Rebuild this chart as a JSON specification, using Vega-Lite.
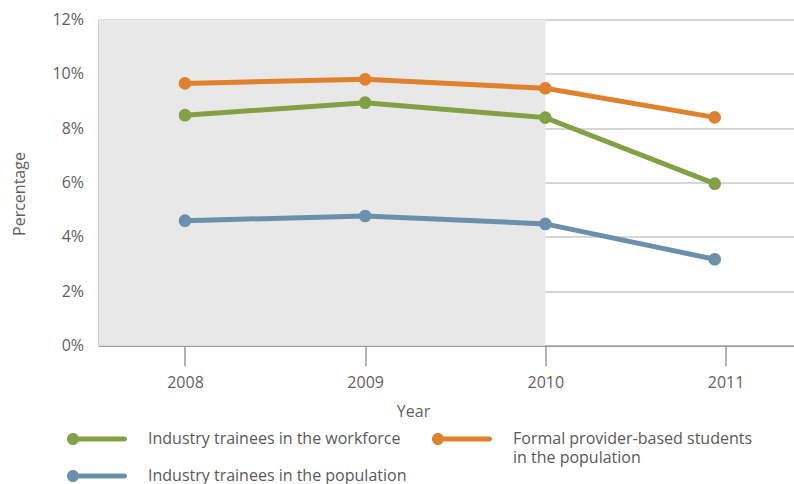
{
  "$schema": "https://vega.github.io/schema/vega-lite/v6.json",
  "width": 695.5,
  "height": 326.2,
  "autosize": {"type": "none"},
  "padding": {"left": 98.5, "top": 19.5, "right": 0, "bottom": 138.3},
  "background": "white",
  "config": {
    "view": {"stroke": null},
    "font": "Open Sans",
    "axis": {"labelFont": "Open Sans", "titleFont": "Open Sans", "labelColor": "#5f5f5f", "titleColor": "#5f5f5f", "labelFontSize": 16, "titleFontSize": 16, "titleFontWeight": "normal"}
  },
  "datasets": {
    "series": [
      {"year": 2008, "value": 9.65, "series": "Formal provider-based students in the population"},
      {"year": 2009, "value": 9.8, "series": "Formal provider-based students in the population"},
      {"year": 2010, "value": 9.47, "series": "Formal provider-based students in the population"},
      {"year": 2010.94, "value": 8.4, "series": "Formal provider-based students in the population"},
      {"year": 2008, "value": 8.48, "series": "Industry trainees in the workforce"},
      {"year": 2009, "value": 8.94, "series": "Industry trainees in the workforce"},
      {"year": 2010, "value": 8.39, "series": "Industry trainees in the workforce"},
      {"year": 2010.94, "value": 5.96, "series": "Industry trainees in the workforce"},
      {"year": 2008, "value": 4.6, "series": "Industry trainees in the population"},
      {"year": 2009, "value": 4.77, "series": "Industry trainees in the population"},
      {"year": 2010, "value": 4.48, "series": "Industry trainees in the population"},
      {"year": 2010.94, "value": 3.18, "series": "Industry trainees in the population"}
    ],
    "shade": [{"from": 2007.52, "to": 2010, "low": 0, "high": 12}]
  },
  "layer": [
    {
      "data": {"name": "shade"},
      "mark": {"type": "rect", "color": "#e8e8e8"},
      "encoding": {
        "x": {"field": "from", "type": "quantitative", "scale": {"domain": [2007.52, 2011.38], "nice": false, "zero": false},
          "axis": {"values": [2008, 2009, 2010, 2011], "format": "d", "title": "Year", "grid": false, "tickSize": 20, "tickColor": "#9a9a9a", "tickWidth": 1.5, "domainColor": "#9a9a9a", "domainWidth": 1.5, "labelPadding": 9, "titlePadding": 13, "titleX": 314.5}},
        "x2": {"field": "to"},
        "y": {"field": "low", "type": "quantitative", "scale": {"domain": [0, 12], "nice": false},
          "axis": {"values": [0, 2, 4, 6, 8, 10, 12], "labelExpr": "datum.value + '%'", "title": "Percentage", "grid": true, "gridColor": "#c8c8c8", "gridWidth": 1.5, "tickSize": 0, "labelPadding": 15, "domainColor": "#9a9a9a", "domainWidth": 1.5, "titlePadding": 24, "titleY": 174}},
        "y2": {"field": "high"}
      }
    },
    {
      "data": {"name": "series"},
      "mark": {"type": "line", "strokeWidth": 5},
      "encoding": {
        "x": {"field": "year", "type": "quantitative"},
        "y": {"field": "value", "type": "quantitative"},
        "color": {"field": "series", "type": "nominal",
          "scale": {"domain": ["Industry trainees in the workforce", "Formal provider-based students in the population", "Industry trainees in the population"], "range": ["#82a044", "#e0812e", "#6a90ab"]},
          "legend": {
            "orient": "none", "legendX": -11.5, "legendY": 409.5, "direction": "horizontal", "columns": 2, "title": null,
            "symbolType": "M -3 0 A 0.6 0.6 0 1 1 -1.8 0 A 0.6 0.6 0 1 1 -3 0 Z M -2.4 -0.25 L 2.75 -0.25 A 0.25 0.25 0 0 1 2.75 0.25 L -2.4 0.25 Z",
            "symbolSize": 400, "symbolStrokeWidth": 0, "symbolOpacity": 1,
            "labelFont": "Open Sans", "labelFontSize": 16, "labelColor": "#595959", "labelLimit": 400, "labelOffset": 41,
            "labelExpr": "datum.label == 'Formal provider-based students in the population' ? ['Formal provider-based students', 'in the population'] : [datum.label, '']",
            "columnPadding": 25, "rowPadding": 0,
            "encode": {
              "symbols": {"update": {"fill": {"scale": "color", "field": "value"}, "strokeWidth": {"value": 0}}},
              "labels": {"update": {"lineHeight": {"value": 19}}}
            }
          }}
      }
    },
    {
      "data": {"name": "series"},
      "mark": {"type": "point", "filled": true, "opacity": 1, "size": 160},
      "encoding": {
        "x": {"field": "year", "type": "quantitative"},
        "y": {"field": "value", "type": "quantitative"},
        "color": {"field": "series", "type": "nominal"}
      }
    }
  ]
}
